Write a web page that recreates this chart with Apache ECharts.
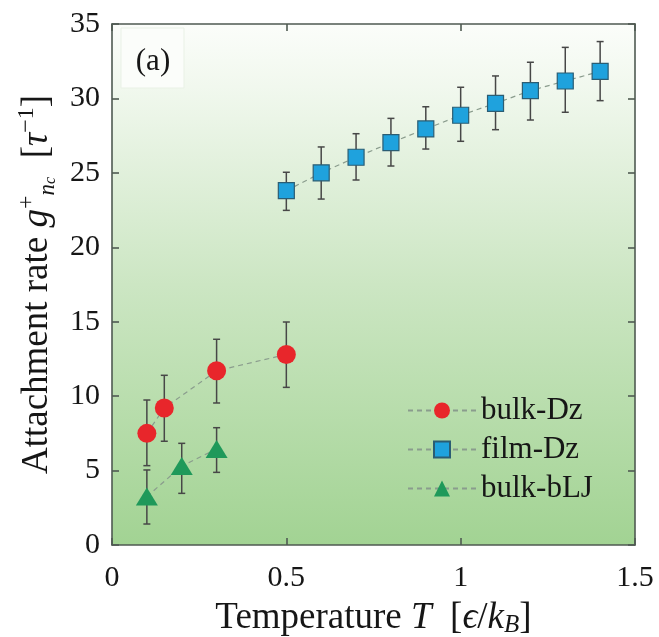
<!DOCTYPE html>
<html>
<head>
<meta charset="utf-8">
<script src="https://cdn.jsdelivr.net/npm/echarts@6/dist/echarts.min.js"></script>
<style>
html,body{margin:0;padding:0;background:#fff;}
#chart{width:659px;height:637px;}
</style>
</head>
<body>
<div id="chart"></div>
<script>
// ---- data ----
const xTicks = [0, 0.5, 1, 1.5];
const yTicks = [0, 5, 10, 15, 20, 25, 30, 35];

const tBulkDz = [0.1, 0.15, 0.3, 0.5];
const gBulkDz = [7.5, 9.2, 11.7, 12.8];
const loBulkDz = [5.33, 6.97, 9.54, 10.59];
const hiBulkDz = [9.74, 11.40, 13.82, 14.98];

const tFilmDz = [0.5, 0.6, 0.7, 0.8, 0.9, 1.0, 1.1, 1.2, 1.3, 1.4];
const gFilmDz = [23.8, 25.0, 26.05, 27.03, 27.95, 28.87, 29.67, 30.52, 31.17, 31.82];
const loFilmDz = [22.48, 23.24, 24.52, 25.46, 26.60, 27.12, 27.90, 28.55, 29.07, 29.85];
const hiFilmDz = [25.04, 26.74, 27.63, 28.66, 29.44, 30.75, 31.51, 32.43, 33.43, 33.82];

const tBulkBLJ = [0.1, 0.2, 0.3];
const gBulkBLJ = [3.25, 5.3, 6.45];
const loBulkBLJ = [1.41, 3.47, 4.88];
const hiBulkBLJ = [5.04, 6.83, 7.88];

const seriesNames = ['bulk-Dz', 'film-Dz', 'bulk-bLJ'];

// ---- helpers ----
const FONT = "'Liberation Serif', 'DejaVu Serif', serif";
const INK = '#161616';
function pairs(xs, ys) { return xs.map((x, i) => [x, ys[i]]); }
function errData(xs, lo, hi) { return xs.map((x, i) => [x, lo[i], hi[i]]); }

function errRender(params, api) {
  const x = api.value(0);
  const p1 = api.coord([x, api.value(1)]);
  const p2 = api.coord([x, api.value(2)]);
  const cap = 3.5;
  const style = { stroke: '#474747', lineWidth: 1.5 };
  return {
    type: 'group',
    children: [
      { type: 'line', shape: { x1: p1[0], y1: p1[1], x2: p2[0], y2: p2[1] }, style },
      { type: 'line', shape: { x1: p1[0] - cap, y1: p1[1], x2: p1[0] + cap, y2: p1[1] }, style },
      { type: 'line', shape: { x1: p2[0] - cap, y1: p2[1], x2: p2[0] + cap, y2: p2[1] }, style }
    ]
  };
}
function errSeries(xs, lo, hi) {
  return {
    type: 'custom',
    renderItem: errRender,
    data: errData(xs, lo, hi),
    encode: { x: 0, y: [1, 2] },
    z: 2,
    silent: true
  };
}

const dashLine = { color: '#8a9c8d', width: 1.2, type: [5, 4] };

const chart = echarts.init(document.getElementById('chart'), null, { renderer: 'canvas' });

const axisLineStyle = { color: '#4f5a52', width: 1.6 };

const option = {
  animation: false,
  backgroundColor: '#ffffff',
  grid: {
    left: 112, top: 24, right: 24, bottom: 92,
    containLabel: false,
    outerBoundsMode: 'none',
    show: true,
    borderWidth: 0,
    backgroundColor: {
      type: 'linear', x: 0, y: 0, x2: 0, y2: 1,
      colorStops: [
        { offset: 0, color: '#fbfdfa' },
        { offset: 0.12, color: '#f1f8ee' },
        { offset: 0.5, color: '#cce6c3' },
        { offset: 1, color: '#a2d393' }
      ]
    }
  },
  legend: {
    data: seriesNames,
    orient: 'vertical',
    left: 402,
    top: 390,
    itemWidth: 68,
    itemHeight: 20,
    itemGap: 8,
    textStyle: { fontFamily: FONT, fontSize: 31, color: INK, lineHeight: 31 }
  },
  xAxis: [
    {
      type: 'value', min: 0, max: 1.5, interval: 0.5,
      position: 'bottom',
      axisLine: { show: true, onZero: false, lineStyle: axisLineStyle },
      axisTick: { show: true, inside: true, length: 7, lineStyle: axisLineStyle },
      splitLine: { show: false },
      axisLabel: {
        fontFamily: FONT, fontSize: 30, color: INK, margin: 18,
        formatter: v => (xTicks.includes(v) ? String(v) : '')
      },
      name: 'Temperature {i|T}  [{i|ϵ}/{i|k}{sub|B}]',
      nameLocation: 'middle',
      nameGap: 52,
      nameTextStyle: {
        fontFamily: FONT, fontSize: 37, color: INK, lineHeight: 40,
        rich: {
          i: { fontFamily: FONT, fontSize: 37, fontStyle: 'italic', color: INK, lineHeight: 40 },
          sub: { fontFamily: FONT, fontSize: 25, fontStyle: 'italic', color: INK, verticalAlign: 'bottom', lineHeight: 40 }
        }
      }
    },
    {
      type: 'value', min: 0, max: 1.5, interval: 0.5,
      position: 'top',
      axisLine: { show: true, onZero: false, lineStyle: axisLineStyle },
      axisTick: { show: true, inside: true, length: 7, lineStyle: axisLineStyle },
      axisLabel: { show: false },
      splitLine: { show: false }
    }
  ],
  yAxis: [
    {
      type: 'value', min: 0, max: 35, interval: 5,
      position: 'left',
      axisLine: { show: true, onZero: false, lineStyle: axisLineStyle },
      axisTick: { show: true, inside: true, length: 7, lineStyle: axisLineStyle },
      splitLine: { show: false },
      axisLabel: {
        fontFamily: FONT, fontSize: 30, color: INK, margin: 12,
        formatter: v => (yTicks.includes(v) ? String(v) : '')
      },
      name: '{a|Attachment rate }{i|g}{sup|+}{sub|n}{sub2|c}{a|  [}{i|τ}{sup|−1}{a|]}',
      nameLocation: 'middle',
      nameRotate: 90,
      nameGap: 50,
      nameTextStyle: {
        fontFamily: FONT, fontSize: 37, color: INK,
        rich: {
          a: { fontFamily: FONT, fontSize: 37, color: INK, lineHeight: 44, verticalAlign: 'middle' },
          i: { fontFamily: FONT, fontSize: 37, fontStyle: 'italic', color: INK, lineHeight: 44, verticalAlign: 'middle' },
          sup: { fontFamily: FONT, fontSize: 24, color: INK, verticalAlign: 'top', lineHeight: 44 },
          sub: { fontFamily: FONT, fontSize: 23, fontStyle: 'italic', color: INK, verticalAlign: 'bottom', lineHeight: 44 },
          sub2: { fontFamily: FONT, fontSize: 16, fontStyle: 'italic', color: INK, verticalAlign: 'bottom', lineHeight: 40 }
        }
      }
    },
    {
      type: 'value', min: 0, max: 35, interval: 5,
      position: 'right',
      axisLine: { show: true, onZero: false, lineStyle: axisLineStyle },
      axisTick: { show: true, inside: true, length: 7, lineStyle: axisLineStyle },
      axisLabel: { show: false },
      splitLine: { show: false }
    }
  ],
  graphic: [
    {
      type: 'rect',
      shape: { x: 121, y: 28, width: 63, height: 60 },
      style: { fill: '#fbfdfa', stroke: '#e9f1e6', lineWidth: 1 },
      z: 5
    },
    {
      type: 'text',
      x: 153, y: 62,
      style: { text: '(a)', font: "31px 'Liberation Serif', 'DejaVu Serif', serif", fill: INK, align: 'center', verticalAlign: 'middle' },
      z: 6
    }
  ],
  series: [
    errSeries(tBulkDz, loBulkDz, hiBulkDz),
    errSeries(tFilmDz, loFilmDz, hiFilmDz),
    errSeries(tBulkBLJ, loBulkBLJ, hiBulkBLJ),
    {
      name: 'bulk-Dz', type: 'line', data: pairs(tBulkDz, gBulkDz),
      symbol: 'circle', symbolSize: 19,
      lineStyle: dashLine,
      itemStyle: { color: '#e8262b', borderColor: '#e8262b', borderWidth: 0 },
      z: 4
    },
    {
      name: 'film-Dz', type: 'line', data: pairs(tFilmDz, gFilmDz),
      symbol: 'rect', symbolSize: 16,
      lineStyle: dashLine,
      itemStyle: { color: '#1fa2dd', borderColor: '#2b5d73', borderWidth: 1.2 },
      z: 4
    },
    {
      name: 'bulk-bLJ', type: 'line', data: pairs(tBulkBLJ, gBulkBLJ),
      symbol: 'triangle', symbolSize: [22, 18],
      lineStyle: dashLine,
      itemStyle: { color: '#1f995a', borderColor: '#1f995a', borderWidth: 0 },
      z: 4
    }
  ]
};
chart.setOption(option);
</script>
</body>
</html>
